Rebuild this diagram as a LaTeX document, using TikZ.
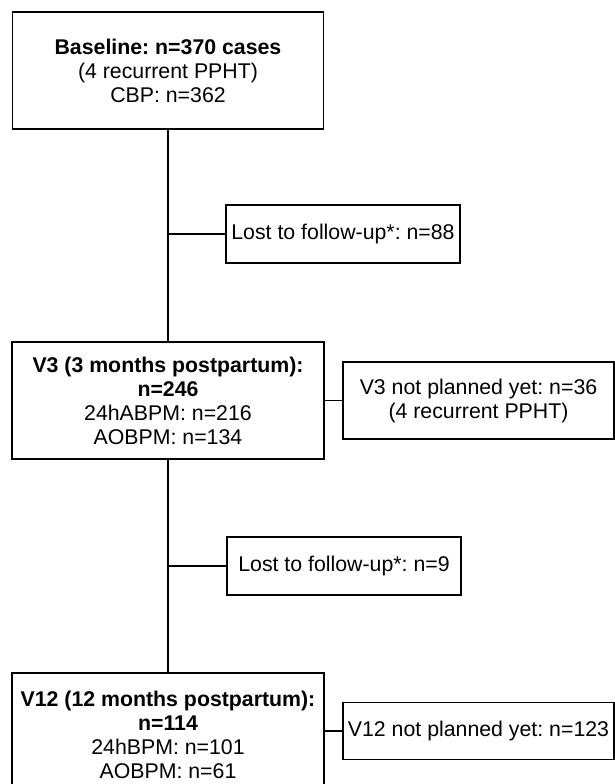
\documentclass[tikz,border=0pt]{standalone}
\usepackage{fontspec}
\setmainfont{Liberation Sans}
\frenchspacing
\begin{document}
\begin{tikzpicture}[x=1pt,y=-1pt,
  box/.style={draw=black, line width=1.6pt, rectangle, inner sep=0pt, align=center,
    font=\fontsize{21.3}{24}\selectfont},
  link/.style={draw=black, line width=1.6pt}]
\useasboundingbox (0,0) rectangle (615,784);
\clip (0,0) rectangle (615,784);
\node[box, minimum width=311pt, minimum height=117pt] (base) at (168,70.5)
  {\textbf{Baseline: n=370 cases}\\(4 recurrent PPHT)\\CBP: n=362};
\node[box, minimum width=234pt, minimum height=58pt] (lost1) at (343,234)
  {Lost to follow-up*: n=88};
\node[box, minimum width=312pt, minimum height=117pt] (v3) at (168,400.5)
  {\textbf{V3 (3 months postpartum):}\\\textbf{n=246}\\24hABPM: n=216\\AOBPM: n=134};
\node[box, minimum width=271pt, minimum height=77pt] (v3np) at (478.5,400.5)
  {V3 not planned yet: n=36\\(4 recurrent PPHT)};
\node[box, minimum width=234pt, minimum height=58pt] (lost2) at (344,566)
  {Lost to follow-up*: n=9};
\node[box, minimum width=312pt, minimum height=124pt] (v12) at (168,735)
  {\textbf{V12 (12 months postpartum):}\\\textbf{n=114}\\24hBPM: n=101\\AOBPM: n=61};
\node[box, minimum width=271pt, minimum height=57pt] (v12np) at (478.5,731)
  {V12 not planned yet: n=123};
\coordinate (j1) at (168,234);
\coordinate (j2) at (168,566);
\draw[link] (base.south) -- (v3.north);
\draw[link] (j1) -- (lost1.west);
\draw[link] (v3.south) -- (v12.north);
\draw[link] (j2) -- (lost2.west);
\draw[link] (v3.east) -- (v3np.west);
\draw[link] (v12.east |- v12np.west) -- (v12np.west);
\end{tikzpicture}
\end{document}
